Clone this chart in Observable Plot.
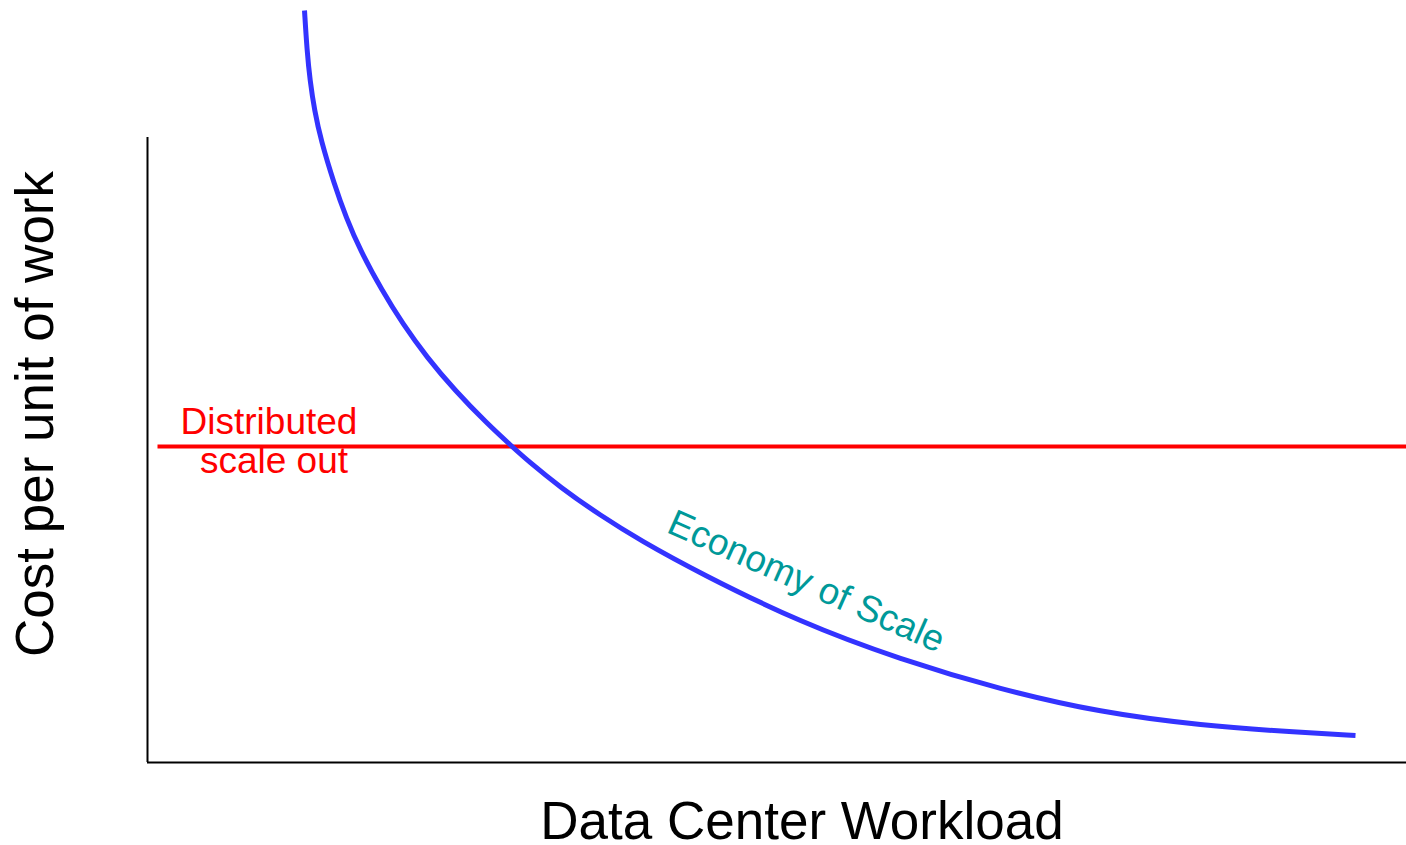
<!DOCTYPE html>
<html>
<head>
<meta charset="utf-8">
<script src="https://cdn.jsdelivr.net/npm/d3@7"></script>
<script src="https://cdn.jsdelivr.net/npm/@observablehq/plot@0.6"></script>
<style>
  html, body { margin: 0; padding: 0; background: #fff; }
  #chart svg { display: block; }
</style>
</head>
<body>
<div id="chart"></div>
<script>
// Economy of scale curve (workload, cost per unit) — arbitrary units
const workload = [1.57, 1.595, 1.625, 1.67, 1.735, 1.865, 1.986, 2.128, 2.345, 2.55, 2.795, 3.075, 3.395, 3.645, 3.80, 4.13, 4.53, 4.93, 5.53, 6.53, 7.53, 8.53, 9.53, 10.53, 11.53, 12.08];
const cost     = [7.52, 7.12, 6.82, 6.52, 6.22, 5.79, 5.45, 5.12, 4.72, 4.39, 4.05, 3.72, 3.39, 3.16, 3.02, 2.75, 2.47, 2.22, 1.89, 1.40, 1.03, 0.73, 0.50, 0.37, 0.30, 0.27];

// Distributed scale out: flat cost
const distributedWorkload = [0.10, 12.59];
const distributedCost = [3.16, 3.16];

// Axis extents
const xDomain = [0, 12.59];
const yDomain = [0, 7.52];
const yAxisTop = 6.25;

// Labels
const xLabel = "Data Center Workload";
const yLabel = "Cost per unit of work";
const distributedLabel = ["Distributed", "scale out"];
const economyLabel = "Economy of Scale";

const curve = workload.map((w, i) => ({workload: w, cost: cost[i]}));
const flat = distributedWorkload.map((w, i) => ({workload: w, cost: distributedCost[i]}));
const economyAnchor = curve[19];

const font = "'Liberation Sans', Arial, Helvetica, sans-serif";

const chart = Plot.plot({
  width: 1406,
  height: 845,
  marginLeft: 147,
  marginRight: 0,
  marginTop: 10,
  marginBottom: 83,
  x: {domain: xDomain, axis: null},
  y: {domain: yDomain, axis: null},
  style: {background: "#fff", fontFamily: font, overflow: "visible"},
  marks: [
    // axes
    Plot.ruleX([0], {y1: 0, y2: yAxisTop, stroke: "#000", strokeWidth: 2}),
    Plot.ruleY([0], {stroke: "#000", strokeWidth: 2}),
    // distributed flat line
    Plot.line(flat, {x: "workload", y: "cost", stroke: "#ff0000", strokeWidth: 4, strokeLinecap: "butt"}),
    // economy of scale curve
    Plot.line(curve, {x: "workload", y: "cost", stroke: "#3333ff", strokeWidth: 5, curve: "basis", strokeLinecap: "butt"}),
    // annotations
    Plot.text([distributedLabel[0]], {x: () => flat[0].workload, y: () => flat[0].cost, text: d => d, dx: 111.5, dy: -13, lineAnchor: "bottom", textAnchor: "middle", fill: "#ff0000", fontSize: 37, fontFamily: font}),
    Plot.text([distributedLabel[1]], {x: () => flat[0].workload, y: () => flat[0].cost, text: d => d, dx: 116.5, dy: 26, lineAnchor: "bottom", textAnchor: "middle", fill: "#ff0000", fontSize: 37, fontFamily: font}),
    Plot.text([economyLabel], {x: () => economyAnchor.workload, y: () => economyAnchor.cost, text: d => d, dx: 1, dy: -30, rotate: 24, lineAnchor: "bottom", textAnchor: "middle", fill: "#009999", fontSize: 37, fontFamily: font}),
    // axis titles
    Plot.text([xLabel], {frameAnchor: "bottom", text: d => d, dx: 25, dy: 76, lineAnchor: "bottom", textAnchor: "middle", fill: "#000", fontSize: 53, fontFamily: font}),
    Plot.text([yLabel], {frameAnchor: "left", text: d => d, dx: -95, dy: 27.5, rotate: -90, lineAnchor: "bottom", textAnchor: "middle", fill: "#000", fontSize: 53, fontFamily: font})
  ]
});

document.getElementById("chart").appendChild(chart);
</script>
</body>
</html>
